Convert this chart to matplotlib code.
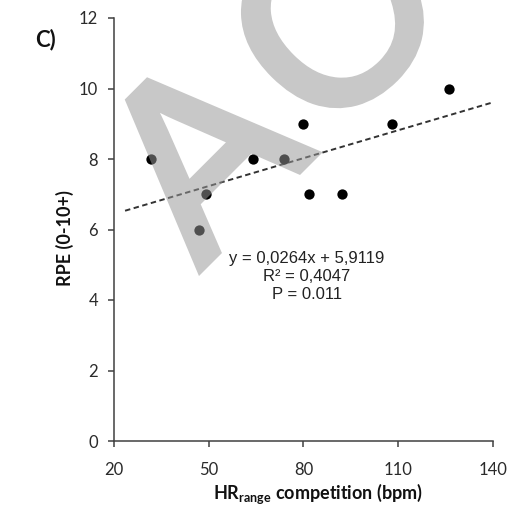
import matplotlib
matplotlib.use("Agg")
import matplotlib.pyplot as plt
from matplotlib.textpath import TextPath
from matplotlib.patches import PathPatch
from matplotlib.font_manager import FontProperties
from matplotlib.transforms import Affine2D
import numpy as np

# ---- data ----
hr_range = [31.7, 46.9, 49.0, 64.0, 73.9, 79.8, 81.6, 92.3, 108.0, 126.0]
rpe = [8, 6, 7, 8, 8, 9, 7, 7, 9, 10]
slope = 0.0264
intercept = 5.9119
trend_span = [23.5, 140]
x_ticks = [20, 50, 80, 110, 140]
y_ticks = [0, 2, 4, 6, 8, 10, 12]
eq_text = "y = 0,0264x + 5,9119\nR² = 0,4047\nP = 0.011"

plt.rcParams['font.family'] = ['Lato', 'DejaVu Sans']
plt.rcParams['mathtext.fontset'] = 'custom'
plt.rcParams['mathtext.rm'] = 'Lato:bold'
plt.rcParams['mathtext.bf'] = 'Lato:bold'
plt.rcParams['mathtext.it'] = 'Lato:bold'

fig = plt.figure(figsize=(5.10, 5.08), dpi=100)
ax = fig.add_axes([114/510, 1-441/508, (493-114)/510, (441-18)/508])

spine_col = '#404040'
for s in ['top', 'right']:
    ax.spines[s].set_visible(False)
for s in ['left', 'bottom']:
    ax.spines[s].set_color(spine_col)
    ax.spines[s].set_linewidth(1.1)

ax.set_xlim(20, 140)
ax.set_ylim(0, 12)
ax.set_xticks(x_ticks)
ax.set_yticks(y_ticks)
ax.tick_params(axis='both', direction='out', length=4, width=1.1, color=spine_col,
               labelsize=12, labelcolor='#2a2a2a')
ax.tick_params(axis='y', pad=7.5)
ax.tick_params(axis='x', pad=11)

ax.scatter(hr_range, rpe, s=55, color='black', zorder=3, linewidths=0)

tx = np.array(trend_span)
ax.plot(tx, slope * tx + intercept, linestyle=(0, (2.8, 1.8)), color='#333333',
        linewidth=1.4, zorder=2)

ax.text(81, 4.68, eq_text, ha='center', va='center', fontsize=12,
        family='Liberation Sans', color='#222222', linespacing=1.25)

ax.set_ylabel('RPE (0-10+)', fontsize=13, fontweight='bold', color='#111111')
ax.yaxis.set_label_coords(-0.105, 0.48)
fig.text(318/510, 1-494/508, r'HR$_{\mathrm{range}}$ competition (bpm)', ha='center',
         va='center', fontsize=13, fontweight='bold', color='#111111')

fig.text(35/510, 1-40/508, 'C)', ha='left', va='center', fontsize=16,
         fontweight='bold', color='#111111')


# ---- watermark: semi-transparent grey overlay ----
def overlay(img, dpi, a=0.53):
    res = np.empty_like(img)
    res[:, :, 0] = 0x97 / 255
    res[:, :, 1] = 0x97 / 255
    res[:, :, 2] = 0x97 / 255
    res[:, :, 3] = np.clip(img[:, :, 3], 0, 1) * a
    return res, 0, 0


wm_font = FontProperties(family='Liberation Sans')
em = 246.0
ox, oy = 200.0, 238.7
pieces = [('A', 0.0), ('CCEPTED MANUSCRIPT', 0.724)]
for s, off in pieces:
    tp = TextPath((off, 0), s, size=1, prop=wm_font)
    tr = Affine2D().scale(em).rotate_deg(45).translate(ox, oy)
    p = PathPatch(tp, transform=tr, facecolor='#979797', edgecolor='#979797',
                  linewidth=5.8, joinstyle='miter', zorder=10)
    p.set_agg_filter(overlay)
    fig.add_artist(p)

fig.savefig('out.png', dpi=100)
